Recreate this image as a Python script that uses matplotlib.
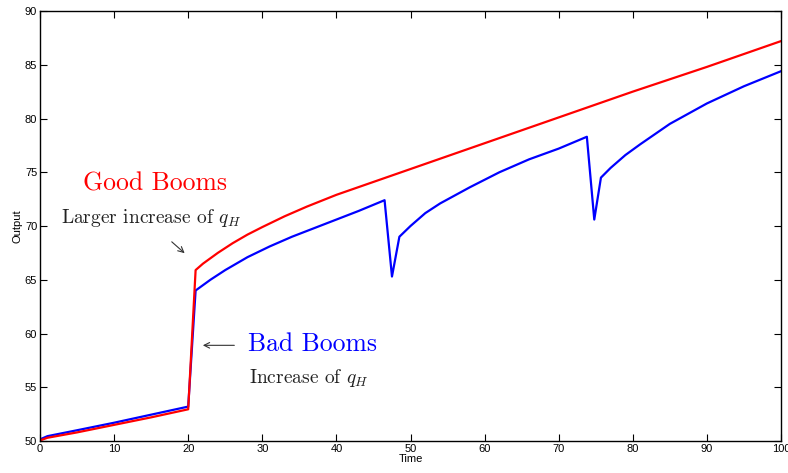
import matplotlib
matplotlib.use("Agg")
import matplotlib.pyplot as plt

plt.rcParams['mathtext.fontset'] = 'cm'
plt.rcParams['font.family'] = ['Liberation Sans', 'DejaVu Sans']

good_t = [0, 1, 5, 10, 15, 20, 21, 22, 23, 24, 26, 28, 30, 33, 36, 40, 45, 50,
          60, 70, 80, 90, 100]
good_y = [50.05, 50.3, 50.8, 51.5, 52.2, 52.95, 65.9, 66.5, 67.0, 67.5, 68.4, 69.2,
          69.9, 70.9, 71.8, 72.9, 74.1, 75.3, 77.7, 80.1, 82.5, 84.8, 87.2]

bad_t = [0, 1, 5, 10, 15, 20, 21, 22, 23, 25, 28, 31, 34, 37, 40, 43, 46.5, 47.5,
         48.5, 50, 52, 54, 58, 62, 66, 70, 73.8, 74.8, 75.7, 77, 79, 81, 85, 90,
         95, 100]
bad_y = [50.15, 50.45, 51.0, 51.7, 52.45, 53.2, 64.0, 64.5, 65.0, 65.9, 67.1, 68.1,
         69.0, 69.8, 70.6, 71.4, 72.4, 65.3, 69.0, 70.0, 71.2, 72.1, 73.6, 75.0,
         76.2, 77.2, 78.3, 70.6, 74.5, 75.4, 76.6, 77.6, 79.5, 81.4, 83.0, 84.4]

fig = plt.figure(figsize=(7.88, 4.73), dpi=100)
ax = fig.add_axes([40 / 788, 1 - 441 / 473, 741 / 788, 430 / 473])

ax.plot(bad_t, bad_y, color='blue', lw=1.6)
ax.plot(good_t, good_y, color='red', lw=1.6)

ax.set_xlim(0, 100)
ax.set_ylim(50, 90)
ax.set_xticks(range(0, 101, 10))
ax.set_yticks(range(50, 91, 5))
ax.tick_params(direction='in', top=True, right=True, length=5, labelsize=8, pad=2)
for s in ax.spines.values():
    s.set_linewidth(1.0)

ax.set_xlabel('Time', fontsize=8, labelpad=0)
ax.set_ylabel('Output', fontsize=8, labelpad=2)

serif = 'cmr10'
ax.text(5.8, 73.9, 'Good Booms', color='red', fontsize=18.5, family=serif, va='center')
ax.text(2.8, 70.7, 'Larger increase of $q_H$', color='#222222', fontsize=14,
        family=serif, va='center')
ax.annotate('', xy=(19.8, 67.3), xytext=(17.5, 68.7),
            arrowprops=dict(arrowstyle='->', color='#333333', lw=0.8))

ax.text(28.1, 59.0, 'Bad Booms', color='blue', fontsize=18.5, family=serif, va='center')
ax.text(28.2, 55.9, 'Increase of $q_H$', color='#222222', fontsize=14,
        family=serif, va='center')
ax.annotate('', xy=(21.6, 58.9), xytext=(26.6, 58.9),
            arrowprops=dict(arrowstyle='->', color='#333333', lw=0.8))

fig.savefig('out.png', dpi=100)
